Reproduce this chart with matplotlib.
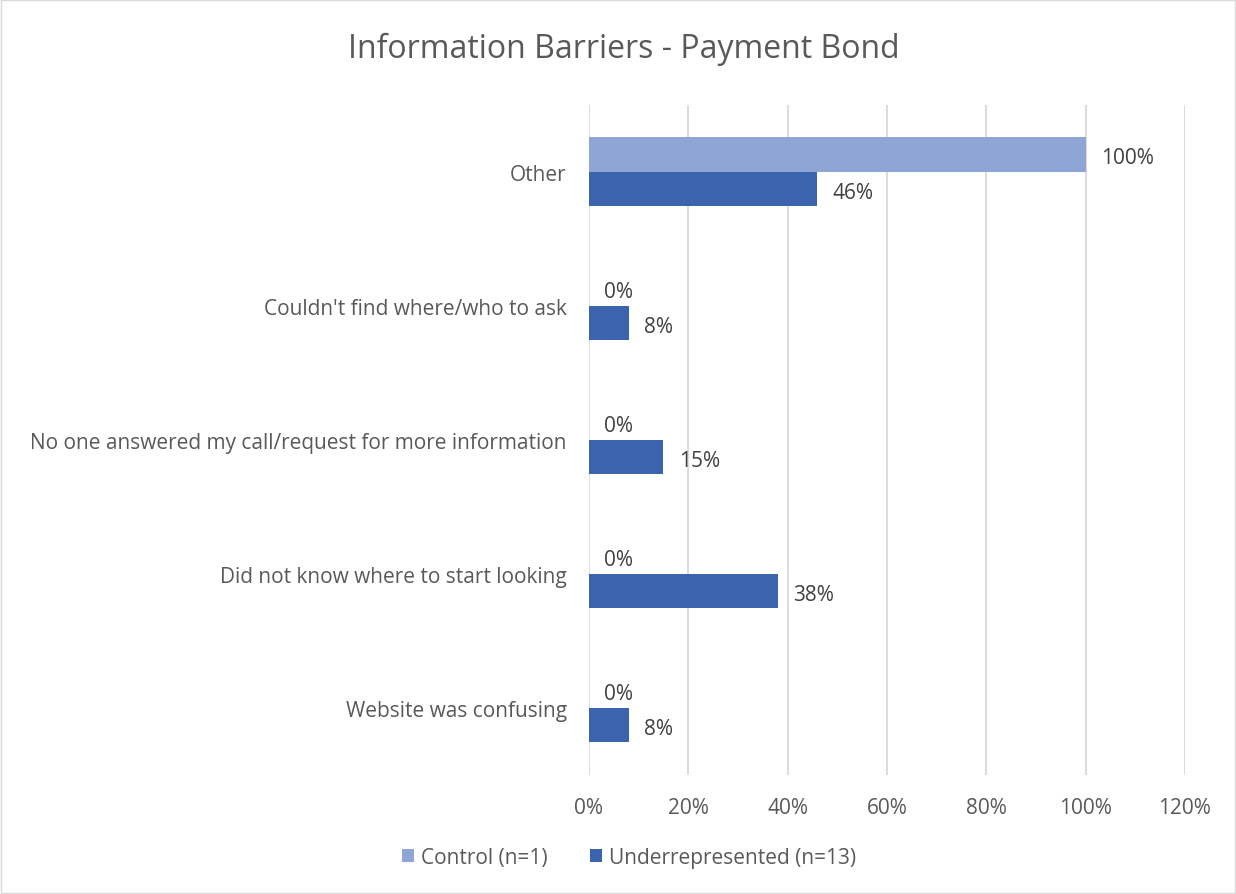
import numpy as np
from matplotlib import pyplot as plt
from matplotlib.patches import Rectangle

categories = ["Other", "Couldn't find where/who to ask",
              "No one answered my call/request for more information",
              "Did not know where to start looking", "Website was confusing"]
control = [100, 0, 0, 0, 0]
underrep = [46, 8, 15, 38, 8]
series_names = ["Control (n=1)", "Underrepresented (n=13)"]
xticks = [0, 20, 40, 60, 80, 100, 120]

c_light = "#8FA5D6"
c_dark = "#3C64AE"
txt = "#595959"

plt.rcParams['font.family'] = ['Open Sans', 'DejaVu Sans']
fs = 15

fig = plt.figure(figsize=(12.36, 8.95), dpi=100)
ax = fig.add_axes([0.4765, 0.1335, 0.4822, 0.7486])

y = np.arange(len(categories))
h = 0.255
ax.barh(y - h / 2, control, height=h, color=c_light, label=series_names[0], zorder=3)
ax.barh(y + h / 2, underrep, height=h, color=c_dark, label=series_names[1], zorder=3)

for yi, v in zip(y, control):
    ax.annotate(f"{v}%", (v, yi - h / 2), xytext=(11, -2.5), textcoords="offset points",
                va="center", ha="left", fontsize=fs, color="#404040")
for yi, v in zip(y, underrep):
    ax.annotate(f"{v}%", (v, yi + h / 2), xytext=(11, -2.5), textcoords="offset points",
                va="center", ha="left", fontsize=fs, color="#404040")

ax.set_ylim(len(categories) - 0.5, -0.5)
ax.set_xlim(0, 120)
ax.set_yticks(y)
ax.set_yticklabels(categories, fontsize=fs, color=txt)
ax.set_xticks(xticks)
ax.set_xticklabels([f"{t}%" for t in xticks], fontsize=fs, color=txt)
ax.tick_params(axis="both", length=0)
ax.tick_params(axis="y", pad=16)
ax.tick_params(axis="x", pad=16)
ax.grid(axis="x", color="#D9D9D9", linewidth=1.3, zorder=0)
for s in ax.spines.values():
    s.set_visible(False)

fig.text(0.505, 0.945, "Information Barriers - Payment Bond", ha="center", va="center",
         fontsize=23, color=txt)

leg = fig.legend(loc="center", bbox_to_anchor=(0.509, 0.041), ncol=2, frameon=False,
                 fontsize=fs, handlelength=0.6, handleheight=0.6, columnspacing=2.0,
                 handletextpad=0.35)
for t in leg.get_texts():
    t.set_color(txt)

fig.patches.append(Rectangle((0.001, 0.001), 0.998, 0.998, transform=fig.transFigure,
                             fill=False, edgecolor="#D9D9D9", linewidth=1))

fig.savefig("out.png", dpi=100)
